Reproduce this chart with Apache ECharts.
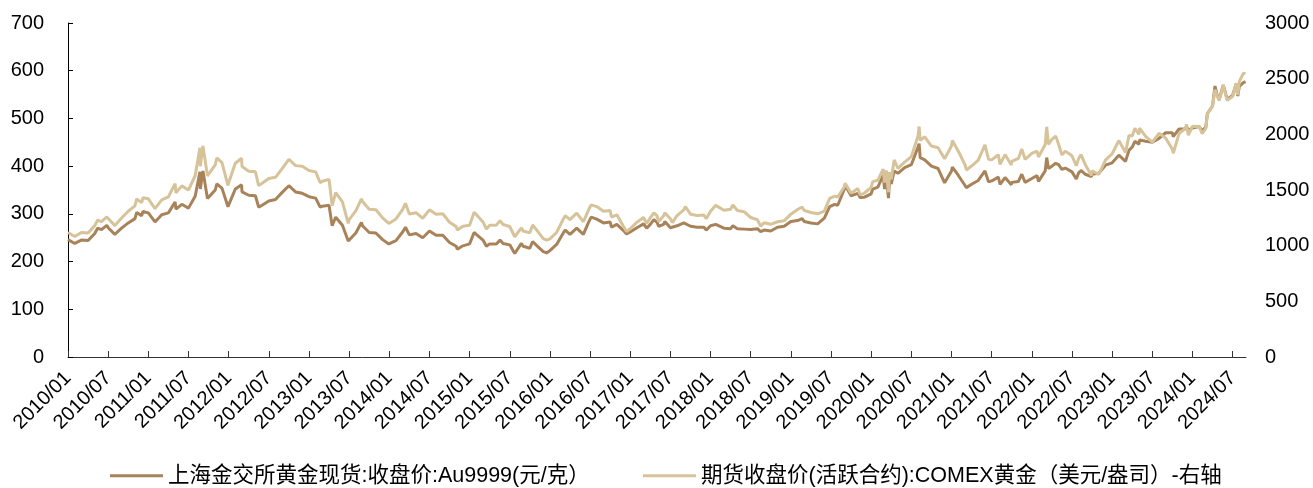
<!DOCTYPE html>
<html>
<head>
<meta charset="utf-8">
<script src="https://cdn.jsdelivr.net/npm/echarts@6/dist/echarts.min.js"></script>
<style>
html,body{margin:0;padding:0;background:#fff;}
#chart{width:1313px;height:488px;}
</style>
</head>
<body>
<div id="chart"></div>
<script>
const seriesNames = ['上海金交所黄金现货:收盘价:Au9999(元/克）', '期货收盘价(活跃合约):COMEX黄金（美元/盎司）-右轴'];

const dates = [
  '2010/01','2010/02','2010/03','2010/04','2010/05','2010/05/14','2010/06','2010/06/25','2010/07','2010/08','2010/09','2010/10','2010/11','2010/11/09','2010/12','2010/12/07',
  '2011/01','2011/02','2011/03','2011/04','2011/05','2011/05/05','2011/06','2011/07','2011/08','2011/08/23','2011/08/25','2011/09','2011/09/06','2011/09/26','2011/10','2011/11','2011/11/08','2011/12','2011/12/29',
  '2012/01','2012/02','2012/02/28','2012/03','2012/04','2012/05','2012/05/16','2012/06','2012/07','2012/08','2012/09','2012/10','2012/10/04','2012/11','2012/12',
  '2013/01','2013/02','2013/02/20','2013/03','2013/04','2013/04/15','2013/05','2013/06','2013/06/27','2013/07','2013/08','2013/08/27','2013/09','2013/10','2013/11','2013/12','2013/12/30',
  '2014/01','2014/02','2014/03','2014/03/14','2014/04','2014/05','2014/06','2014/07','2014/07/10','2014/08','2014/09','2014/10','2014/11','2014/11/06','2014/12',
  '2015/01','2015/01/22','2015/02','2015/03','2015/03/17','2015/04','2015/05','2015/05/18','2015/06','2015/07','2015/07/24','2015/08','2015/08/24','2015/09','2015/10','2015/10/14','2015/11','2015/12','2015/12/17',
  '2016/01','2016/02','2016/03','2016/03/10','2016/04','2016/05','2016/05/02','2016/06','2016/06/24','2016/07','2016/07/06','2016/08','2016/09','2016/10','2016/10/07','2016/11','2016/12','2016/12/15',
  '2017/01','2017/02','2017/03','2017/03/15','2017/04','2017/04/17','2017/05','2017/05/09','2017/06','2017/06/06','2017/07','2017/07/10','2017/08','2017/09','2017/09/08','2017/10','2017/11','2017/12','2017/12/12',
  '2018/01','2018/01/25','2018/02','2018/03','2018/04','2018/04/11','2018/05','2018/06','2018/07','2018/08','2018/08/16','2018/09','2018/10','2018/11','2018/12',
  '2019/01','2019/02','2019/02/20','2019/03','2019/04','2019/05','2019/06','2019/06/25','2019/07','2019/07/18','2019/08','2019/09','2019/09/04','2019/10','2019/11','2019/11/12','2019/12',
  '2020/01','2020/01/08','2020/02','2020/02/24','2020/03','2020/03/09','2020/03/19','2020/03/24','2020/04','2020/04/14','2020/05','2020/06','2020/07','2020/08','2020/08/06','2020/08/11','2020/09','2020/10','2020/11','2020/11/30','2020/12',
  '2021/01','2021/01/05','2021/02','2021/03','2021/03/08','2021/04','2021/05','2021/06','2021/06/17','2021/07','2021/08','2021/08/09','2021/09','2021/09/29','2021/10','2021/11','2021/11/16','2021/12',
  '2022/01','2022/01/25','2022/02','2022/03','2022/03/08','2022/03/16','2022/04','2022/04/18','2022/05','2022/05/16','2022/06','2022/07','2022/07/21','2022/08','2022/08/12','2022/09','2022/09/28','2022/10','2022/11','2022/11/03','2022/12',
  '2023/01','2023/02','2023/03','2023/03/08','2023/03/17','2023/04','2023/04/13','2023/05','2023/05/04','2023/06','2023/07','2023/08','2023/09','2023/10','2023/10/05','2023/11','2023/12','2023/12/04','2023/12/13',
  '2024/01','2024/02','2024/02/14','2024/03','2024/03/08','2024/04','2024/04/12','2024/04/22','2024/05','2024/05/20','2024/06','2024/06/07','2024/07','2024/07/17','2024/07/25','2024/08','2024/08/20','2024/08/30'
];

const au9999 = [
  246,238,245,244,259,270,267,276,271,257,270,281,290,303,296,305,
  302,283,298,302,325,310,320,312,337,388,352,375,390,332,330,350,363,354,315,
  318,352,361,346,339,338,314,318,327,330,345,359,362,346,343,
  336,333,314,316,318,275,293,276,243,246,260,282,275,261,260,246,237,
  237,244,262,272,256,259,250,264,267,255,255,240,232,226,233,
  237,261,257,245,232,237,237,245,238,235,217,220,238,232,228,242,234,221,218,
  223,236,260,266,257,270,272,257,282,283,293,289,281,283,272,278,265,258,
  262,271,279,270,278,288,282,274,278,284,271,268,275,281,284,274,272,272,266,
  275,278,274,270,269,275,269,268,267,269,263,266,264,272,274,
  284,286,290,284,281,279,291,315,312,320,318,352,360,338,343,334,335,
  342,352,356,381,352,378,333,370,363,390,385,397,403,440,447,418,413,400,395,365,368,
  390,398,381,360,355,362,370,390,367,369,377,362,376,361,366,368,383,366,
  374,380,368,390,418,395,400,406,403,393,396,388,373,386,391,383,378,383,385,383,402,
  407,423,410,408,433,440,452,446,455,452,450,458,470,470,462,478,478,484,475,
  480,483,474,482,510,526,568,548,540,570,550,540,548,572,547,567,575,577
];

const comex = [
  1118,1083,1118,1113,1180,1230,1215,1258,1244,1180,1248,1309,1358,1420,1387,1430,
  1421,1333,1411,1439,1557,1475,1537,1500,1628,1880,1712,1829,1895,1628,1620,1725,1790,1746,1540,
  1566,1740,1785,1711,1669,1664,1540,1561,1604,1614,1692,1776,1790,1719,1713,
  1675,1663,1565,1578,1595,1360,1476,1393,1200,1234,1313,1420,1396,1327,1323,1250,1200,
  1202,1240,1326,1380,1284,1296,1246,1322,1338,1282,1287,1210,1171,1140,1175,
  1184,1300,1279,1213,1150,1183,1184,1225,1190,1172,1080,1095,1160,1132,1115,1185,1142,1064,1050,
  1061,1118,1238,1270,1234,1293,1300,1215,1320,1322,1367,1351,1309,1316,1257,1277,1173,1128,
  1152,1211,1253,1200,1249,1295,1269,1217,1269,1296,1242,1207,1270,1322,1350,1283,1271,1275,1242,
  1309,1362,1345,1318,1327,1365,1316,1305,1253,1233,1175,1206,1192,1215,1223,
  1283,1325,1346,1316,1298,1286,1311,1425,1413,1445,1437,1529,1560,1472,1514,1455,1473,
  1523,1575,1588,1688,1566,1675,1480,1660,1597,1770,1694,1751,1800,1986,2070,1945,1978,1895,1879,1780,1781,
  1895,1945,1850,1729,1680,1715,1768,1905,1775,1771,1817,1730,1818,1725,1757,1784,1868,1776,
  1829,1850,1796,1909,2068,1910,1954,1985,1911,1815,1849,1807,1718,1782,1818,1726,1630,1672,1640,1630,1768,
  1826,1944,1836,1820,1990,1986,2055,1999,2055,1982,1929,2009,1966,1866,1830,2006,2057,2090,1993,
  2072,2071,2005,2054,2185,2254,2400,2346,2302,2440,2345,2305,2339,2460,2353,2474,2550,2545
];

const tickLabels = [
  '2010/01','2010/07','2011/01','2011/07','2012/01','2012/07','2013/01','2013/07','2014/01','2014/07',
  '2015/01','2015/07','2016/01','2016/07','2017/01','2017/07','2018/01','2018/07','2019/01','2019/07',
  '2020/01','2020/07','2021/01','2021/07','2022/01','2022/07','2023/01','2023/07','2024/01','2024/07'
];

const leftTicks = [0, 700, 100];   // min, max, interval
const rightTicks = [0, 3000, 500];

function monthIndex(s) {
  const p = s.split('/').map(Number);
  const y = p[0], mo = p[1], d = p[2] || 1;
  const dim = new Date(y, mo, 0).getDate();
  return (y - 2010) * 12 + (mo - 1) + (d - 1) / dim;
}

const xs = dates.map(monthIndex);
const tickPos = tickLabels.map(monthIndex);
const labelMap = {};
tickLabels.forEach((t, i) => { labelMap[Math.round(tickPos[i])] = t; });
const xMax = monthIndex('2024/09');

const FONT = '"Liberation Sans", Arial, "Noto Sans CJK SC", sans-serif';

const chart = echarts.init(document.getElementById('chart'), null, { renderer: 'canvas' });
chart.setOption({
  animation: false,
  backgroundColor: '#fff',
  grid: { left: 68, right: 67, top: 23, bottom: 131, containLabel: false, outerBoundsMode: 'none' },
  legend: [
    {
      data: [{ name: seriesNames[0], icon: 'rect' }], left: 105, top: 460, padding: 5,
      itemWidth: 53, itemHeight: 3,
      textStyle: { fontSize: 21.5, color: '#000', fontFamily: FONT }
    },
    {
      data: [{ name: seriesNames[1], icon: 'rect' }], left: 638, top: 460, padding: 5,
      itemWidth: 53, itemHeight: 3,
      textStyle: { fontSize: 21.5, color: '#000', fontFamily: FONT }
    }
  ],
  xAxis: {
    type: 'value', min: 0, max: xMax,
    axisLine: { show: true, lineStyle: { color: '#333', width: 1 } },
    axisTick: { show: true, inside: true, length: 6, customValues: tickPos, lineStyle: { color: '#333' } },
    axisLabel: {
      customValues: tickPos, rotate: 45, margin: 18, fontSize: 20, color: '#000', fontFamily: FONT,
      formatter: v => labelMap[Math.round(v)] || ''
    },
    splitLine: { show: false }
  },
  yAxis: [
    {
      type: 'value', min: leftTicks[0], max: leftTicks[1], interval: leftTicks[2],
      axisLine: { show: true, lineStyle: { color: '#000', width: 1 } },
      axisTick: { show: true, inside: true, length: 5, lineStyle: { color: '#000' } },
      axisLabel: { fontSize: 20, color: '#000', margin: 24, fontFamily: FONT, formatter: v => String(v) },
      splitLine: { show: false }
    },
    {
      type: 'value', min: rightTicks[0], max: rightTicks[1], interval: rightTicks[2], position: 'right',
      axisLine: { show: false }, axisTick: { show: false },
      axisLabel: { fontSize: 20, color: '#000', margin: 19, fontFamily: FONT, formatter: v => String(v) },
      splitLine: { show: false }
    }
  ],
  series: [
    {
      name: seriesNames[0], type: 'line', yAxisIndex: 0, symbol: 'none',
      lineStyle: { width: 3, color: '#A8835A' }, itemStyle: { color: '#A8835A' },
      data: xs.map((x, i) => [x, au9999[i]])
    },
    {
      name: seriesNames[1], type: 'line', yAxisIndex: 1, symbol: 'none',
      lineStyle: { width: 3, color: '#D7C39A' }, itemStyle: { color: '#D7C39A' },
      data: xs.map((x, i) => [x, comex[i]])
    }
  ]
});
</script>
</body>
</html>
